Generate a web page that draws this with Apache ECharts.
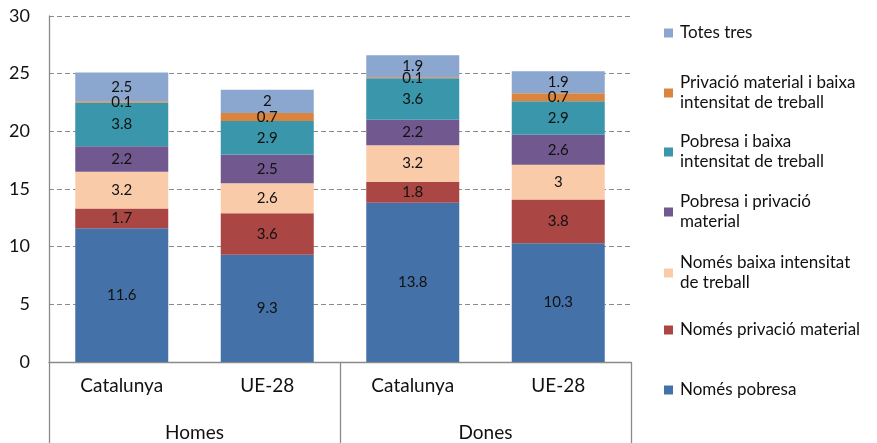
<!DOCTYPE html>
<html><head><meta charset="utf-8">
<script src="https://cdn.jsdelivr.net/npm/echarts@6/dist/echarts.min.js"></script>
<style>html,body{margin:0;padding:0;background:#fff}#c{width:877px;height:443px}</style>
</head><body><div id="c"></div>
<script>
const categories = ['Catalunya', 'UE-28', 'Catalunya', 'UE-28'];
const groups = ['Homes', 'Dones'];
const yTicks = [0, 5, 10, 15, 20, 25, 30];
const seriesNames = ['Només pobresa', 'Només privació material', 'Només baixa intensitat de treball', 'Pobresa i privació material', 'Pobresa i baixa intensitat de treball', 'Privació material i baixa intensitat de treball', 'Totes tres'];
const legendLabels = ['Només pobresa', 'Només privació material', 'Només baixa intensitat\nde treball', 'Pobresa i privació\nmaterial', 'Pobresa i baixa\nintensitat de treball', 'Privació material i baixa\nintensitat de treball', 'Totes tres'];
const nomesPobresa = [11.6, 9.3, 13.8, 10.3];
const nomesPrivacio = [1.7, 3.6, 1.8, 3.8];
const nomesBaixa = [3.2, 2.6, 3.2, 3];
const pobresaPrivacio = [2.2, 2.5, 2.2, 2.6];
const pobresaBaixa = [3.8, 2.9, 3.6, 2.9];
const privacioBaixa = [0.1, 0.7, 0.1, 0.7];
const totesTres = [2.5, 2, 1.9, 1.9];
const values = [nomesPobresa, nomesPrivacio, nomesBaixa, pobresaPrivacio, pobresaBaixa, privacioBaixa, totesTres];
const colors = ['#4472A8', '#AA4644', '#FACBA8', '#71598F', '#3A96AA', '#DB843D', '#8CA7CF'];

const FONT = 'Lato';
const chart = echarts.init(document.getElementById('c'));
const L = 20;
const legendCenters = [390, 330, 273, 212, 152, 93, 33];
const legends = seriesNames.map((n, i) => {
  const two = legendLabels[i].indexOf('\n') >= 0;
  return {
    data: [n], left: 664, top: two ? legendCenters[i] - 1.5 * L : legendCenters[i] - L / 2,
    padding: 0, itemWidth: 9, itemHeight: 9, itemGap: 0, selectedMode: false,
    icon: 'rect',
    formatter: () => legendLabels[i],
    textStyle: { fontFamily: FONT, fontSize: 17, color: '#111', lineHeight: L, padding: two ? [L, 0, 0, 2] : [0, 0, 0, 2] }
  };
});
chart.setOption({
  animation: false,
  color: colors,
  grid: { left: 49, right: 246, top: 16, bottom: 81, containLabel: false },
  legend: legends,
  xAxis: [
    { type: 'category', data: categories, position: 'bottom',
      axisLine: { lineStyle: { color: '#8a8a8a', width: 1.3 } }, axisTick: { show: false },
      axisLabel: { margin: 14, fontFamily: FONT, fontSize: 19, color: '#111' } },
    { type: 'category', data: groups, position: 'bottom', offset: 0,
      axisLine: { show: false },
      axisTick: { show: true, length: 82, lineStyle: { color: '#8a8a8a', width: 1.3 } },
      axisLabel: { margin: 61, fontFamily: FONT, fontSize: 19, color: '#111' } }
  ],
  yAxis: {
    type: 'value', min: yTicks[0], max: yTicks[yTicks.length - 1], interval: yTicks[1] - yTicks[0],
    axisLine: { show: true, lineStyle: { color: '#8a8a8a', width: 1.3 } }, axisTick: { show: false },
    axisLabel: { margin: 19, fontFamily: FONT, fontSize: 18, color: '#111' },
    splitLine: { lineStyle: { color: '#8a8a8a', type: [5, 3], width: 1 } }
  },
  series: seriesNames.map((n, i) => ({
    name: n, type: 'bar', stack: 'total', xAxisIndex: 0, barWidth: 93,
    data: values[i],
    itemStyle: { color: colors[i] },
    label: { show: true, position: 'inside', color: '#111', fontFamily: FONT, fontSize: 15 }
  }))
});
</script></body></html>
